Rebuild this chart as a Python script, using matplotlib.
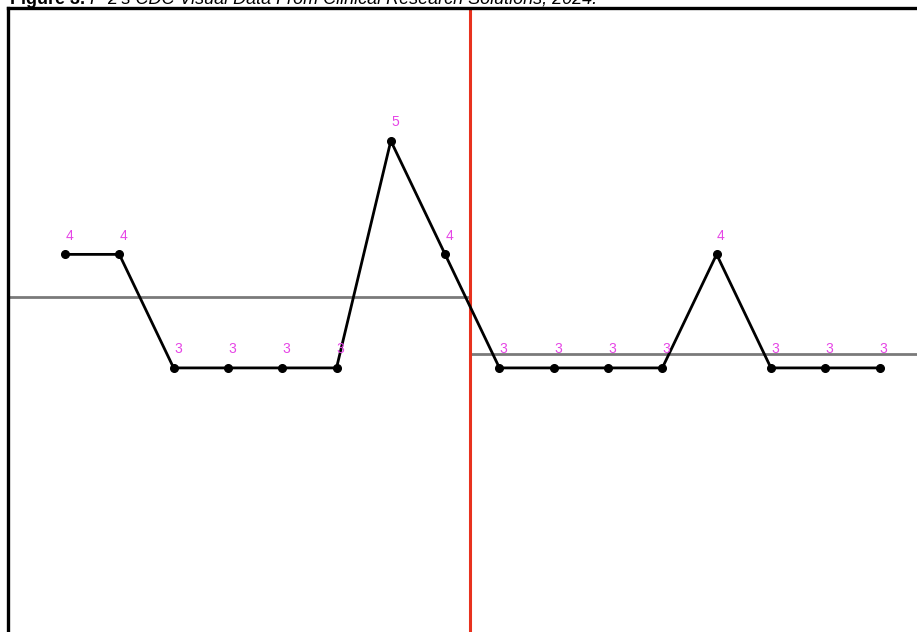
import matplotlib
matplotlib.use("Agg")
import matplotlib.pyplot as plt
import numpy as np

plt.rcParams['font.family'] = ['Liberation Sans', 'DejaVu Sans']

phase1_values = [4, 4, 3, 3, 3, 3, 5, 4]
phase2_values = [3, 3, 3, 3, 4, 3, 3, 3]
title_bold = "Figure 3."
title_rest = " P-2's CDC Visual Data From Clinical Research Solutions, 2024."

values = phase1_values + phase2_values
x = np.arange(len(values))
n1 = len(phase1_values)
phase_x = n1 - 0.55
mean1 = np.mean(phase1_values)
mean2 = np.mean(phase2_values)

W, H = 917, 632
fig = plt.figure(figsize=(W / 100, H / 100), dpi=100)
ax = fig.add_axes([8 / W, 0, (W - 8) / W, (H - 8) / H])
ax.set_xlim(-1.05, 15.69)
ax.set_ylim(0.674, 6.17)

for s in ['right', 'bottom']:
    ax.spines[s].set_visible(False)
for s in ['left', 'top']:
    ax.spines[s].set_linewidth(2.4)
    ax.spines[s].set_color('black')
ax.set_xticks([])
ax.set_yticks([])

# mean lines
ax.plot([-1.05, phase_x], [mean1, mean1], color='#7a7a7a', lw=2.0, zorder=1, solid_capstyle='butt')
ax.plot([phase_x, 15.69], [mean2, mean2], color='#7a7a7a', lw=2.0, zorder=1, solid_capstyle='butt')
# phase change line
ax.axvline(phase_x, color='#e8321e', lw=2.2, zorder=2)

# data
ax.plot(x, values, color='black', lw=2.0, marker='o', markersize=5.5, zorder=3)

for xi, v in zip(x, values):
    ax.annotate(str(v), (xi, v), xytext=(3, 13.5), textcoords='offset points',
                ha='center', va='center', color='#e645e6', fontsize=10, zorder=4)

# title (cropped at the top, as in the reference)
t1 = fig.text(10 / W, 1 - 4 / H, title_bold, fontsize=13, fontweight='bold',
              va='baseline', ha='left')
fig.canvas.draw()
bb = t1.get_window_extent()
fig.text(bb.x1 / W, 1 - 4 / H, title_rest, fontsize=13, fontstyle='italic',
         va='baseline', ha='left')

fig.savefig('out.png', dpi=100)
